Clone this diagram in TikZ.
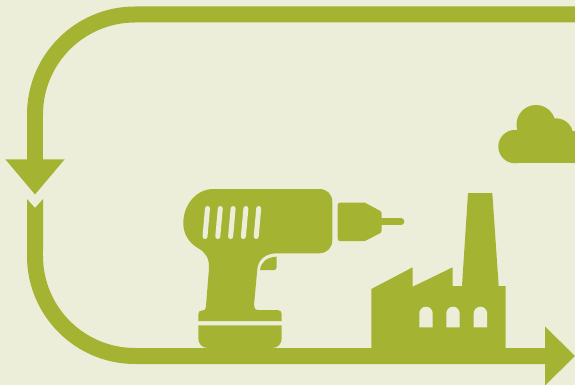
\documentclass[tikz,border=0pt]{standalone}
\usepackage{xcolor}
\usepackage{tikz}
\definecolor{paper}{HTML}{ECEEDA}
\definecolor{leaf}{HTML}{A4B432}
\tikzset{
    loopline/.style={
        draw=leaf, line width=0.32cm
    },
    solidpart/.style={
        fill=leaf, draw=none
    },
    cutpart/.style={
        fill=paper, draw=none
    },
    ventslot/.style={
        draw=paper, line width=0.1cm, line cap=round
    },
}
\begin{document}
\begin{tikzpicture}[x=0.02cm, y=-0.02cm]

    % Page
    \useasboundingbox (0,0) rectangle (575,385);
    \clip (0,0) rectangle (575,385);
    \fill[paper] (0,0) rectangle (575,385);

    % Loop: top run and left side
    \draw[loopline] (580,14.5) -- (135,14.5) arc[start angle=270, end angle=180, radius=100] -- (35,165);
    \fill[solidpart] (5.5,159.5) -- (64.5,159.5) -- (35,194.5) -- cycle;

    % Loop: left side and bottom run
    \fill[solidpart] (27,199) -- (35,208) -- (43,199) -- (43,250) -- (27,250) -- cycle;
    \draw[loopline] (35,248) -- (35,256) arc[start angle=180, end angle=90, radius=100] -- (550,356);
    \fill[solidpart] (545,326.5) -- (575,356) -- (545,385.5) -- cycle;

    % Drill body and handle
    \fill[solidpart] (213.3,189) -- (319,189)
        .. controls (327,189) and (332.3,194) .. (332.3,202) -- (332.3,240)
        .. controls (332.3,248) and (327,253.3) .. (319,253.3) -- (277,253.3)
        .. controls (265,253.3) and (258,260) .. (257.3,269.3) -- (254,305)
        .. controls (254,308) and (255,310) .. (258.3,310) -- (277,310)
        .. controls (280,310) and (281.7,311) .. (281.7,314) -- (281.7,321) -- (198.3,321) -- (198.3,314.3)
        .. controls (198.3,311.5) and (200,310.5) .. (202,310.5)
        .. controls (204.5,310.5) and (205.7,310) .. (205.9,307) -- (209,268.3)
        .. controls (209.5,258) and (205,252) .. (198.3,248.3)
        .. controls (189,243) and (183.3,234) .. (183.3,223.3)
        .. controls (183.3,204) and (197,189) .. (213.3,189) -- cycle;

    % Drill battery
    \fill[solidpart] (198.3,325.3) -- (281.7,325.3) -- (281.7,338)
        .. controls (281.7,344) and (278,348) .. (272,348) -- (208,348)
        .. controls (202,348) and (198.3,344) .. (198.3,338) -- cycle;

    % Trigger
    \fill[solidpart] (276.7,256.7) -- (276.7,267)
        .. controls (276.7,269) and (275.5,270) .. (274,270) -- (260,270)
        .. controls (261,262) and (267,257) .. (276.7,256.7) -- cycle;

    % Vent slots
    \foreach \i in {0,...,4}
        \draw[ventslot] ({207.5+12.8*\i},208.5) -- ({205+12.8*\i},236.5);

    % Chuck and bit
    \fill[solidpart] (337.7,205) .. controls (337.7,203.5) and (338.7,202.7) .. (340,202.7) -- (365,202.7) -- (379.5,210.5)
        .. controls (381,211.5) and (381.7,212) .. (381.7,213.5) -- (381.7,230.5)
        .. controls (381.7,232) and (381,232.5) .. (379.5,233.5) -- (365,241) -- (340,241)
        .. controls (338.7,241) and (337.7,240.2) .. (337.7,238.5) -- cycle;
    \draw[leaf, line width=0.135cm, line cap=round] (381,221.7) -- (401,221.7);

    % Factory
    \fill[solidpart] (371.3,289) -- (412.7,267.3) -- (412.7,286.7) -- (452.7,267.3) -- (452.7,286)
        -- (462,286) -- (468,193) -- (492.3,193) -- (498.7,286) -- (505.7,286) -- (505.7,350) -- (371.3,350) -- cycle;
    \foreach \wx in {419.3,446.3,473.7}
        \fill[cutpart] (\wx,327.3) -- (\wx,313.4) arc[start angle=180, end angle=360, radius=6.7] -- ({\wx+13.4},327.3) -- cycle;

    % Cloud
    \fill[solidpart] (515,146.6) circle[radius=16.7];
    \fill[solidpart] (536,124.5) circle[radius=19.5];
    \fill[solidpart] (556,135.5) circle[radius=17.2];
    \fill[solidpart] (515,135) rectangle (580,163.3);
    \fill[solidpart] (565,131) rectangle (580,140);

\end{tikzpicture}
\end{document}
